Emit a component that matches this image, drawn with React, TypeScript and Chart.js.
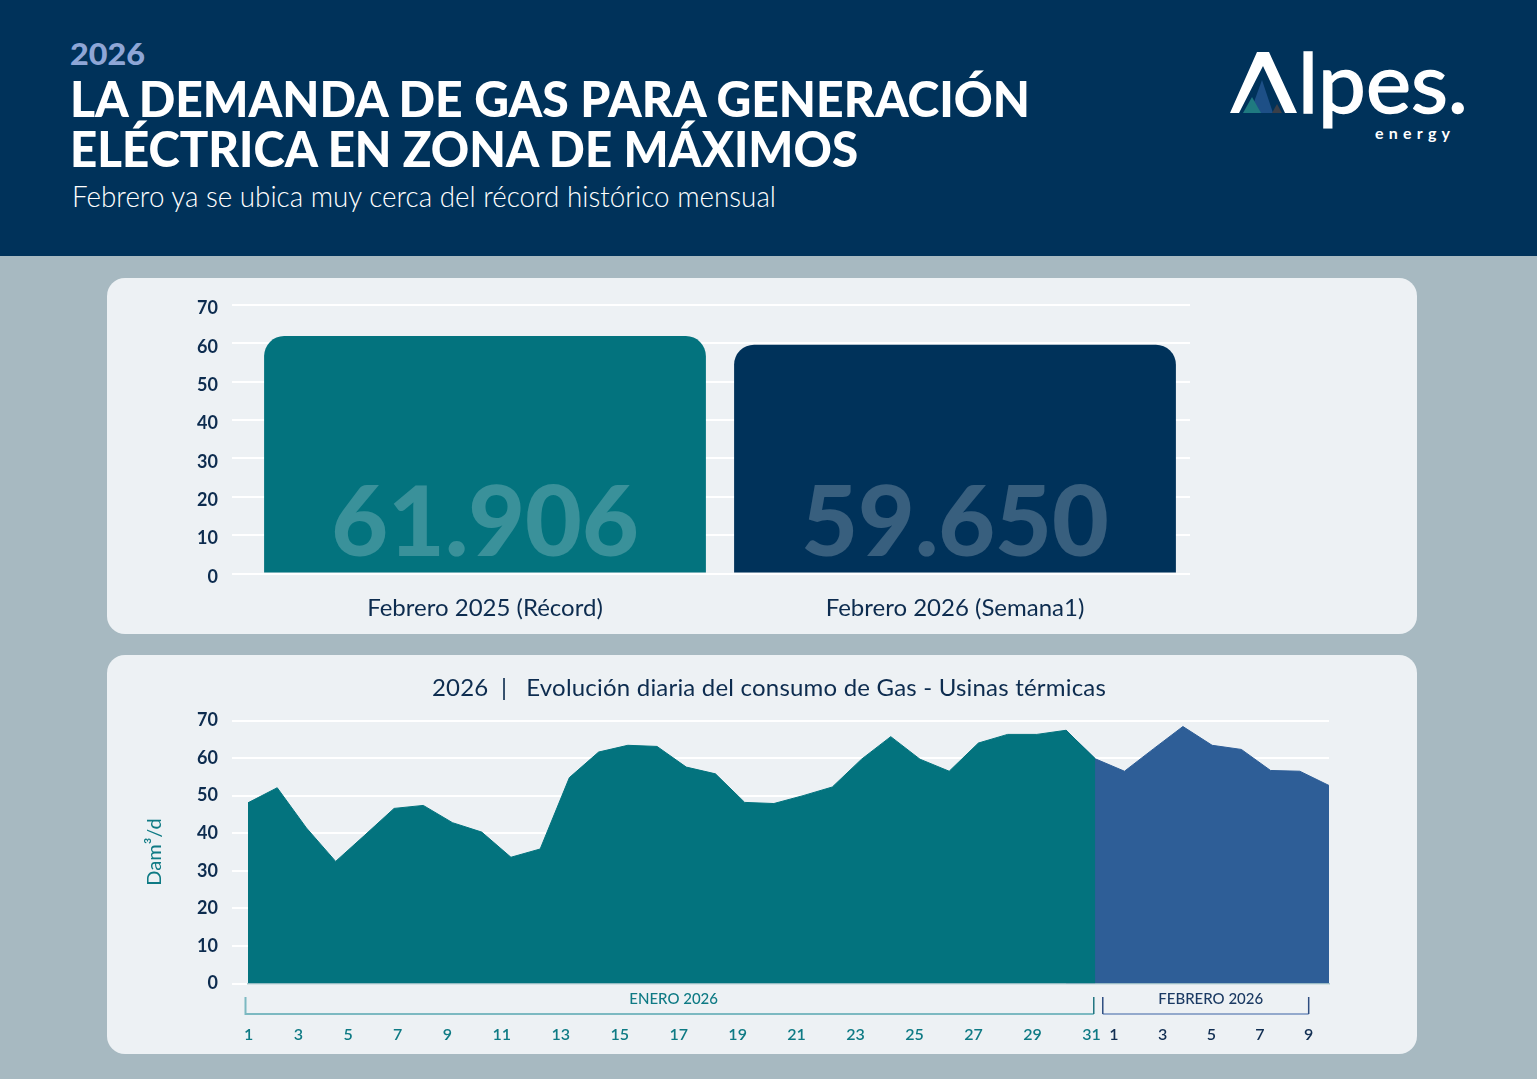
import React, { useEffect, useRef } from "react";
import { Chart, registerables } from "chart.js";

Chart.register(...registerables);

const FONT = "Lato, 'Open Sans', 'DejaVu Sans', sans-serif";

// ---------- header texts ----------
const headerYear = "2026";
const titleLines = ["LA DEMANDA DE GAS PARA GENERACIÓN", "ELÉCTRICA EN ZONA DE MÁXIMOS"];
const subtitle = "Febrero ya se ubica muy cerca del récord histórico mensual";

// ---------- top chart data ----------
const barCategories = ["Febrero 2025 (Récord)", "Febrero 2026 (Semana1)"];
const barValues = [61.906, 59.65];
const barColors = ["#03737e", "#00325a"];

// ---------- shared axis ----------
const yMin = 0;
const yMax = 70;
const yStep = 10;

// ---------- bottom chart data ----------
const lineTitle = "2026  |   Evolución diaria del consumo de Gas - Usinas térmicas";
const yAxisTitle = "Dam³/d";
const janDays = ["1", "2", "3", "4", "5", "6", "7", "8", "9", "10", "11", "12", "13", "14", "15", "16", "17", "18", "19", "20", "21", "22", "23", "24", "25", "26", "27", "28", "29"];
const janValues = [48.1, 52.1, 41.4, 32.5, 39.5, 46.6, 47.4, 42.8, 40.3, 33.6, 35.8, 54.8, 61.6, 63.4, 63.1, 57.6, 55.8, 48.2, 47.9, 50.0, 52.3, 59.7, 65.7, 59.7, 56.5, 64.0, 66.3, 66.3, 67.4];
const febDays = ["1", "2", "3", "4", "5", "6", "7", "8", "9"];
const febValues = [59.8, 56.5, 62.5, 68.4, 63.4, 62.3, 56.7, 56.5, 52.7];
const janTickLabels = ["1", "3", "5", "7", "9", "11", "13", "15", "17", "19", "21", "23", "25", "27", "29", "31"];
const febTickLabels = ["1", "3", "5", "7", "9"];
const janGroupLabel = "ENERO 2026";
const febGroupLabel = "FEBRERO 2026";
const janColor = "#03737e";
const febColor = "#2e5e97";

const NAVY_TEXT = "#0d2c4f";

function TopChart() {
  const ref = useRef<HTMLCanvasElement | null>(null);
  useEffect(() => {
    const canvas = ref.current!;
    const numbersPlugin = {
      id: "barNumbers",
      afterDatasetsDraw(chart: any) {
        const { ctx } = chart;
        const meta = chart.getDatasetMeta(0);
        ctx.save();
        ctx.font = `900 98px ${FONT}`;
        ctx.textAlign = "center";
        ctx.textBaseline = "alphabetic";
        ctx.fillStyle = "rgba(255,255,255,0.22)";
        meta.data.forEach((bar: any, i: number) => {
          ctx.fillText(barValues[i].toFixed(3), bar.x, bar.base - 16.5);
        });
        ctx.restore();
      },
    };
    const chart = new Chart(canvas, {
      type: "bar",
      data: {
        labels: barCategories,
        datasets: [
          {
            data: barValues,
            backgroundColor: barColors,
            borderRadius: 20,
            borderSkipped: "start",
            barPercentage: 0.94,
            categoryPercentage: 1,
          },
        ],
      },
      options: {
        animation: false,
        responsive: false,
        maintainAspectRatio: false,
        layout: { padding: { left: 0, right: 227, top: 27, bottom: 0 } },
        plugins: { legend: { display: false }, tooltip: { enabled: false } },
        scales: {
          x: {
            grid: { display: false, drawTicks: false },
            border: { display: false },
            ticks: { color: NAVY_TEXT, font: { family: FONT, size: 24 }, padding: 20 },
            afterFit: (s: any) => {
              s.height = 60.5;
            },
          },
          y: {
            min: yMin,
            max: yMax,
            ticks: {
              stepSize: yStep,
              color: NAVY_TEXT,
              font: { family: FONT, size: 18, weight: "bold" },
              padding: 14,
              labelOffset: 3.5,
            },
            grid: { color: "#ffffff", lineWidth: 2, tickLength: 18, drawTicks: true },
            border: { display: false },
            afterFit: (s: any) => {
              s.width = 143;
            },
          },
        },
      } as any,
      plugins: [numbersPlugin],
    });
    return () => chart.destroy();
  }, []);
  return <canvas ref={ref} width={1310} height={356} style={{ display: "block" }} />;
}

function BottomChart() {
  const ref = useRef<HTMLCanvasElement | null>(null);
  useEffect(() => {
    const canvas = ref.current!;
    const categories = [...janDays.map((d) => d + " ene"), ...febDays.map((d) => d + " feb")];
    const n = janValues.length;
    // January area runs up to the first February point
    const janSeries = categories.map((_, i) => (i < n ? janValues[i] : i === n ? febValues[0] : null));
    // February area starts under the last January point (hidden below the January area) to avoid a seam
    const febSeries = categories.map((_, i) => (i === n - 1 ? janValues[n - 1] : i >= n ? febValues[i - n] : null));

    const bracketPlugin = {
      id: "brackets",
      afterDraw(chart: any) {
        const { ctx, chartArea } = chart;
        const x = chart.scales.x;
        const base = chartArea.bottom;
        const x0 = x.getPixelForValue(0);
        const xj = x.getPixelForValue(n);
        ctx.save();
        ctx.font = `600 16px ${FONT}`;
        ctx.textBaseline = "middle";
        ctx.textAlign = "left";
        const janW = janTickLabels.map((t) => ctx.measureText(t).width);
        const left = x0 - 4;
        const right = xj + 5.5;
        const gap = (right - left - janW.reduce((a, b) => a + b, 0)) / (janTickLabels.length - 1);
        let cur = left;
        ctx.fillStyle = "#0e7a84";
        janTickLabels.forEach((t, i) => {
          ctx.fillText(t, cur, base + 51.5);
          cur += janW[i] + gap;
        });
        cur = xj + 14;
        ctx.fillStyle = "#112e52";
        let lastCenter = cur;
        febTickLabels.forEach((t) => {
          const w = ctx.measureText(t).width;
          ctx.fillText(t, cur, base + 51.5);
          lastCenter = cur + w / 2;
          cur += w + gap - 1;
        });
        const top = base + 13.5;
        const bot = base + 30.5;
        const jl = x0 - 2.5;
        const jr = xj - 1.5;
        const fl = xj + 7.5;
        const fr = lastCenter;
        ctx.lineWidth = 2;
        ctx.strokeStyle = "#7cb9c1";
        ctx.beginPath();
        ctx.moveTo(jl, top);
        ctx.lineTo(jl, bot);
        ctx.lineTo(jr, bot);
        ctx.stroke();
        ctx.lineWidth = 1.5;
        ctx.strokeStyle = "#1f7480";
        ctx.beginPath();
        ctx.moveTo(jr, top);
        ctx.lineTo(jr, bot);
        ctx.stroke();
        ctx.lineWidth = 2;
        ctx.strokeStyle = "#93a9cc";
        ctx.beginPath();
        ctx.moveTo(fl, bot);
        ctx.lineTo(fr, bot);
        ctx.stroke();
        ctx.lineWidth = 1.5;
        ctx.strokeStyle = "#2e4e80";
        ctx.beginPath();
        ctx.moveTo(fl, top);
        ctx.lineTo(fl, bot);
        ctx.moveTo(fr, top);
        ctx.lineTo(fr, bot);
        ctx.stroke();
        ctx.font = `500 15px ${FONT}`;
        ctx.textAlign = "center";
        ctx.fillStyle = "#0e7a84";
        ctx.fillText(janGroupLabel, (jl + jr) / 2 + 4, base + 16);
        ctx.fillStyle = "#1b3a63";
        ctx.fillText(febGroupLabel, (fl + fr) / 2 + 5, base + 16);
        ctx.restore();
      },
    };

    const chart = new Chart(canvas, {
      type: "line",
      data: {
        labels: categories,
        datasets: [
          {
            label: janGroupLabel,
            data: janSeries,
            fill: "origin",
            backgroundColor: janColor,
            borderColor: janColor,
            borderWidth: 1,
            pointRadius: 0,
            tension: 0,
            spanGaps: false,
            order: 0,
          },
          {
            label: febGroupLabel,
            data: febSeries,
            fill: "origin",
            backgroundColor: febColor,
            borderColor: febColor,
            borderWidth: 1,
            pointRadius: 0,
            tension: 0,
            spanGaps: false,
            order: 1,
          },
        ],
      },
      options: {
        animation: false,
        responsive: false,
        maintainAspectRatio: false,
        layout: { padding: { left: 33, right: 88, top: 65.5, bottom: 0 } },
        plugins: {
          legend: { display: false },
          tooltip: { enabled: false },
        },
        scales: {
          x: {
            offset: false,
            grid: { display: false, drawTicks: false },
            border: { display: true, color: "#a9c6cc", width: 1.5 },
            ticks: { display: false },
            afterFit: (s: any) => {
              s.height = 70.5;
            },
          },
          y: {
            min: yMin,
            max: yMax,
            ticks: { stepSize: yStep, color: NAVY_TEXT, font: { family: FONT, size: 18, weight: "bold" }, padding: 14 },
            grid: { color: "#ffffff", lineWidth: 2, tickLength: 16, drawTicks: true },
            border: { display: false },
            title: {
              display: true,
              text: yAxisTitle,
              color: "#0e7a84",
              font: { family: FONT, size: 20 },
              padding: { top: 3, bottom: 4 },
            },
            afterFit: (s: any) => {
              s.width = 108;
            },
          },
        },
      } as any,
      plugins: [bracketPlugin],
    });
    return () => chart.destroy();
  }, []);
  return <canvas ref={ref} width={1310} height={399} style={{ display: "block" }} />;
}

function Header() {
  return (
    <svg width={1537} height={256} style={{ position: "absolute", left: 0, top: 0, display: "block" }}>
      <rect x={0} y={0} width={1537} height={256} fill="#00325a" />
      <text x={70} y={65} fill="#8ea6d6" fontFamily={FONT} fontWeight={900} fontSize={31} textLength={75} lengthAdjust="spacingAndGlyphs">
        {headerYear}
      </text>
      <text x={70} y={117} fill="#ffffff" fontFamily={FONT} fontWeight={900} fontSize={50} textLength={960} lengthAdjust="spacingAndGlyphs">
        {titleLines[0]}
      </text>
      <text x={70} y={167} fill="#ffffff" fontFamily={FONT} fontWeight={900} fontSize={50} textLength={788} lengthAdjust="spacingAndGlyphs">
        {titleLines[1]}
      </text>
      <text x={72} y={207} fill="#ffffff" fontFamily={FONT} fontWeight={300} fontSize={29} textLength={704} lengthAdjust="spacingAndGlyphs">
        {subtitle}
      </text>
      {/* logo */}
      <polygon points="1230,113 1257,52 1269,52 1297,113 1285,113 1263,66 1239,113" fill="#ffffff" />
      <polygon points="1250,113 1262,80 1273,113" fill="#1d4f86" />
      <polygon points="1243,113 1252,97 1261,113" fill="#1f7a80" />
      <polygon points="1272,113 1277,104 1282,113" fill="#3a3f48" />
      <text
        x={1298}
        y={113}
        fill="#ffffff"
        stroke="#ffffff"
        strokeWidth={1.5}
        fontFamily={FONT}
        fontWeight={400}
        fontSize={84}
        textLength={170}
        lengthAdjust="spacingAndGlyphs"
      >
        lpes.
      </text>
      <text x={1375} y={139} fill="#ffffff" fontFamily={FONT} fontWeight={700} fontSize={16} textLength={75} lengthAdjust="spacing">
        energy
      </text>
    </svg>
  );
}

export default function App() {
  return (
    <div
      style={{
        position: "absolute",
        left: 0,
        top: 0,
        width: 1537,
        height: 1079,
        background: "#a7b9c1",
        overflow: "hidden",
        fontFamily: FONT,
      }}
    >
      <Header />
      <div
        style={{
          position: "absolute",
          left: 107,
          top: 278,
          width: 1310,
          height: 356,
          background: "#edf1f4",
          borderRadius: 18,
          overflow: "hidden",
        }}
      >
        <TopChart />
      </div>
      <div
        style={{
          position: "absolute",
          left: 107,
          top: 655,
          width: 1310,
          height: 399,
          background: "#edf1f4",
          borderRadius: 18,
          overflow: "hidden",
        }}
      >
        <BottomChart />
        <div
          style={{
            position: "absolute",
            left: 0,
            top: 17,
            width: 1324,
            textAlign: "center",
            fontFamily: FONT,
            fontSize: 24,
            lineHeight: "30px",
            letterSpacing: 0.2,
            color: NAVY_TEXT,
            whiteSpace: "pre",
          }}
        >
          {lineTitle}
        </div>
      </div>
    </div>
  );
}
